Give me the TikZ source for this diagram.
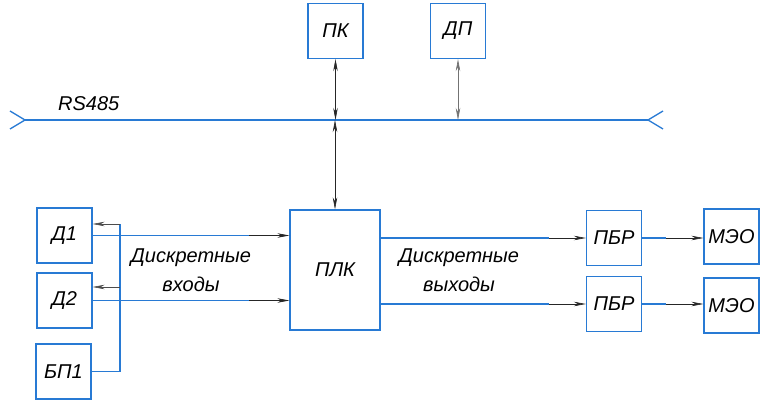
\documentclass[tikz,border=0pt]{standalone}
\usepackage{fontspec}
\setmainfont{Liberation Sans}
\usetikzlibrary{arrows.meta,calc}
\definecolor{azulGost}{RGB}{40,122,212}

\begin{document}
\begin{tikzpicture}[
    x=1pt, y=-1pt,
    % --- BLOQUES: marco azul y letra cursiva ---
    bloque/.style={draw=azulGost, line width=1.3pt, fill=white, minimum width=55pt, minimum height=55pt, inner sep=0pt, font=\fontsize{20}{22}\selectfont\itshape},
    % --- LINEAS: azul del esquema, flechas negras finas ---
    lineaAzul/.style={draw=azulGost, line width=1.3pt},
    flechaNegra/.style={-{Stealth[length=12pt,width=4.5pt]}, black!85, line width=0.6pt},
    flechaDoble/.style={{Stealth[length=12pt,width=4.5pt]}-{Stealth[length=12pt,width=4.5pt]}, black!85, line width=0.6pt},
    rotulo/.style={font=\fontsize{20}{29}\selectfont\itshape, align=center, inner sep=0pt}
]
    \useasboundingbox (0,0) rectangle (765,403);

    % --- BLOQUES ---
    \node[bloque] (pk)   at (335.5,31)  {ПК};
    \node[bloque] (dp)   at (458,31)    {ДП};
    \node[bloque, minimum width=90pt, minimum height=120pt] (plk) at (335,270) {ПЛК};

    \node[bloque] (d1)   at (64.5,235.5) {Д1};
    \node[bloque] (d2)   at (64.5,300.5) {Д2};
    \node[bloque] (bp1)  at (63.5,371.5) {БП1};

    \node[bloque] (pbr1) at (614,238)   {ПБР};
    \node[bloque] (pbr2) at (614,304)   {ПБР};
    \node[bloque] (meo1) at (731.5,236.5) {МЭО};
    \node[bloque] (meo2) at (731.5,305.5) {МЭО};

    % --- SHINA RS485 ---
    \coordinate (busL) at (25,120);
    \coordinate (busR) at (648,120);
    \draw[lineaAzul] (busL) -- (busR);
    \draw[lineaAzul] ($(busL)+(-15,-9)$) -- (busL) -- ($(busL)+(-15,9)$);
    \draw[lineaAzul] ($(busR)+(15,-9)$) -- (busR) -- ($(busR)+(15,9)$);
    \node[rotulo, anchor=west] (rs) at (58,104) {RS485};

    % --- ENLACES CON LA SHINA ---
    \draw[flechaDoble] (pk.south) -- (pk.south |- busL);
    \draw[flechaDoble] (plk.north |- busL) -- (plk.north);
    \draw[flechaDoble, black!55] (dp.south) -- (dp.south |- busL);

    % --- ENTRADAS DISCRETAS ---
    \draw[lineaAzul] (d1.east) -- ($(d1.east -| plk.west)+(-40,0)$);
    \draw[flechaNegra] ($(d1.east -| plk.west)+(-40,0)$) -- (d1.east -| plk.west);
    \draw[lineaAzul] (d2.east) -- ($(d2.east -| plk.west)+(-40,0)$);
    \draw[flechaNegra] ($(d2.east -| plk.west)+(-40,0)$) -- (d2.east -| plk.west);
    \node[rotulo] (entradas) at (191,270) {Дискретные\\входы};

    % --- ALIMENTACION DESDE BP1 ---
    \coordinate (alim1) at (120,224);
    \coordinate (alim2) at (120,287);
    \draw[lineaAzul] (bp1.east) -| (alim1);
    \draw[flechaNegra, black!70] (alim1) -- (alim1 -| d1.east);
    \draw[flechaNegra, black!70] (alim2) -- (alim2 -| d2.east);

    % --- SALIDAS DISCRETAS ---
    \draw[lineaAzul] (plk.east |- pbr1.west) -- ($(pbr1.west)+(-37,0)$);
    \draw[flechaNegra] ($(pbr1.west)+(-37,0)$) -- (pbr1.west);
    \draw[lineaAzul] (plk.east |- pbr2.west) -- ($(pbr2.west)+(-37,0)$);
    \draw[flechaNegra] ($(pbr2.west)+(-37,0)$) -- (pbr2.west);
    \node[rotulo] (salidas) at (459,270) {Дискретные\\выходы};

    % --- PBR A MEO ---
    \draw[lineaAzul] (pbr1.east) -- ($(meo1.west |- pbr1.east)+(-37,0)$);
    \draw[flechaNegra] ($(meo1.west |- pbr1.east)+(-37,0)$) -- (meo1.west |- pbr1.east);
    \draw[lineaAzul] (pbr2.east) -- ($(meo2.west |- pbr2.east)+(-37,0)$);
    \draw[flechaNegra] ($(meo2.west |- pbr2.east)+(-37,0)$) -- (meo2.west |- pbr2.east);

\end{tikzpicture}
\end{document}
